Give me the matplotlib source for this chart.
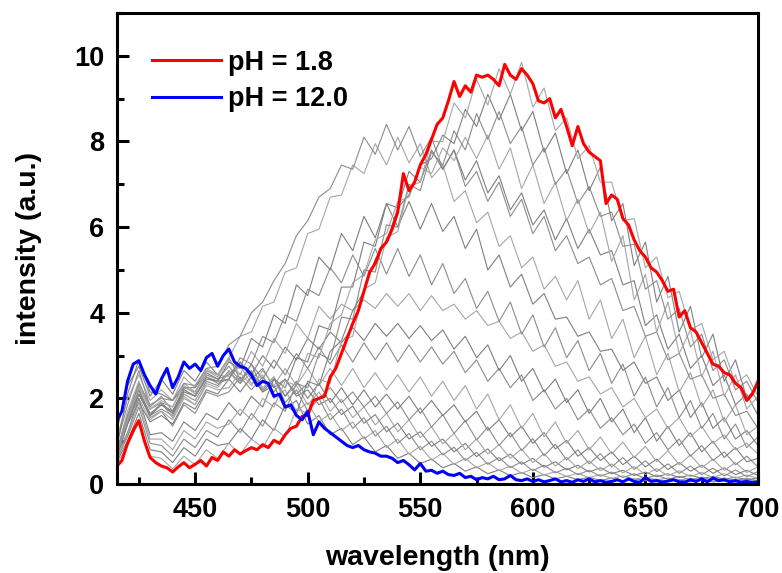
import numpy as np
import matplotlib
matplotlib.use("Agg")
import matplotlib.pyplot as plt
from matplotlib.ticker import MultipleLocator

plt.rcParams['font.family'] = ['Liberation Sans', 'DejaVu Sans']
plt.rcParams['font.weight'] = 'bold'

# wavelength grids (nm)
wl_fine = np.arange(415, 700.1, 2.5)   # red / blue spectra
wl = np.arange(415, 700.1, 5)          # intermediate spectra

# pH = 1.8
ph_low = [
    0.40, 0.55, 0.95, 1.25, 1.48, 1.00, 0.62, 0.50, 0.42, 0.38, 0.28, 0.40, 0.50, 0.38, 0.46, 0.55, 0.42, 0.62, 0.55, 0.75,
    0.65, 0.80, 0.70, 0.78, 0.85, 0.80, 0.92, 0.85, 1.02, 0.95, 1.15, 1.30, 1.35, 1.58, 1.60, 1.95, 2.00, 2.05, 2.50, 2.70,
    3.05, 3.40, 3.75, 4.05, 4.50, 4.95, 5.15, 5.50, 5.65, 5.95, 6.35, 7.25, 6.85, 7.05, 7.45, 7.70, 8.05, 8.40, 8.55, 8.95,
    9.40, 9.05, 9.30, 9.15, 9.55, 9.50, 9.55, 9.45, 9.30, 9.80, 9.55, 9.45, 9.70, 9.55, 9.35, 8.95, 8.90, 9.00, 8.55, 8.75,
    8.35, 7.90, 8.35, 7.95, 7.75, 7.65, 7.55, 6.55, 6.75, 6.65, 6.20, 6.05, 5.70, 5.45, 5.30, 5.05, 4.95, 4.75, 4.50, 4.55,
    3.90, 4.05, 3.65, 3.55, 3.30, 3.05, 2.80, 2.75, 2.60, 2.55, 2.35, 2.25, 1.95, 2.10, 2.40,
]

# pH = 12.0
ph_high = [
    1.45, 1.70, 2.40, 2.80, 2.88, 2.55, 2.30, 2.10, 2.45, 2.70, 2.25, 2.50, 2.85, 2.70, 2.80, 2.65, 2.95, 3.05, 2.75, 3.00,
    3.15, 2.85, 2.75, 2.70, 2.55, 2.30, 2.40, 2.35, 2.05, 2.10, 1.80, 1.85, 1.60, 1.50, 1.70, 1.15, 1.45, 1.30, 1.20, 1.10,
    1.00, 0.90, 0.85, 0.90, 0.80, 0.75, 0.72, 0.65, 0.65, 0.60, 0.50, 0.55, 0.45, 0.33, 0.48, 0.30, 0.32, 0.25, 0.30, 0.22,
    0.20, 0.25, 0.15, 0.18, 0.10, 0.15, 0.12, 0.18, 0.10, 0.12, 0.20, 0.10, 0.08, 0.12, 0.06, 0.10, 0.05, 0.08, 0.12, 0.05,
    0.08, 0.04, 0.10, 0.06, 0.12, 0.05, 0.08, 0.04, 0.06, 0.10, 0.05, 0.12, 0.06, 0.04, 0.15, 0.06, 0.08, 0.04, 0.07, 0.10,
    0.05, 0.04, 0.10, 0.06, 0.12, 0.05, 0.14, 0.08, 0.10, 0.05, 0.08, 0.04, 0.06, 0.03, 0.05,
]

# intermediate pH spectra (5 nm step, 415-700)
g1 = [1.20, 2.30, 2.75, 2.05, 2.45, 2.10, 2.65, 2.40, 2.85, 2.55,
      2.95, 2.45, 2.65, 2.15, 2.30, 1.75, 1.95, 1.40, 1.60, 1.15,
      1.30, 0.92, 1.10, 0.75, 0.90, 0.60, 0.72, 0.48, 0.58, 0.38,
      0.48, 0.30, 0.40, 0.24, 0.33, 0.19, 0.27, 0.15, 0.22, 0.12,
      0.18, 0.10, 0.16, 0.08, 0.14, 0.07, 0.12, 0.08, 0.11, 0.06,
      0.10, 0.05, 0.09, 0.05, 0.08, 0.05, 0.07, 0.05]
g2 = [1.00, 2.00, 2.55, 1.95, 2.20, 1.95, 2.50, 2.25, 2.70, 2.55,
      2.50, 2.75, 2.35, 2.55, 2.00, 2.20, 1.70, 1.90, 1.45, 1.65,
      1.25, 1.45, 1.05, 1.25, 0.85, 1.05, 0.70, 0.88, 0.56, 0.72,
      0.46, 0.60, 0.38, 0.50, 0.31, 0.42, 0.25, 0.35, 0.21, 0.29,
      0.18, 0.25, 0.15, 0.22, 0.13, 0.19, 0.11, 0.16, 0.10, 0.14,
      0.09, 0.13, 0.08, 0.12, 0.07, 0.11, 0.07, 0.09]
g3 = [0.90, 1.85, 2.65, 1.80, 2.05, 1.70, 2.25, 2.15, 2.55, 2.45,
      2.75, 2.40, 2.80, 2.20, 2.50, 1.90, 2.20, 1.70, 2.00, 1.50,
      1.75, 1.30, 1.55, 1.12, 1.35, 0.95, 1.18, 0.80, 1.00, 0.68,
      0.86, 0.55, 0.74, 0.46, 0.62, 0.38, 0.52, 0.31, 0.44, 0.26,
      0.37, 0.22, 0.32, 0.18, 0.28, 0.15, 0.24, 0.13, 0.21, 0.11,
      0.18, 0.10, 0.16, 0.09, 0.14, 0.08, 0.13, 0.07]
g4 = [0.80, 2.10, 2.90, 2.15, 2.10, 1.95, 2.25, 2.25, 2.60, 2.45,
      2.55, 2.85, 2.45, 2.70, 2.25, 2.45, 2.05, 2.20, 1.85, 2.00,
      1.62, 1.82, 1.42, 1.62, 1.22, 1.42, 1.05, 1.22, 0.88, 1.05,
      0.75, 0.95, 0.64, 0.82, 0.54, 0.70, 0.46, 0.60, 0.39, 0.52,
      0.33, 0.44, 0.28, 0.38, 0.24, 0.32, 0.20, 0.28, 0.17, 0.24,
      0.15, 0.21, 0.13, 0.18, 0.11, 0.16, 0.10, 0.14]
g5 = [0.70, 1.70, 2.40, 1.75, 1.90, 1.55, 2.05, 1.85, 2.35, 2.25,
      2.60, 2.35, 2.60, 2.25, 2.50, 2.05, 2.30, 1.85, 2.15, 1.70,
      1.98, 1.55, 1.80, 1.38, 1.65, 1.22, 1.50, 1.08, 1.34, 0.94,
      1.18, 0.80, 1.05, 0.70, 0.92, 0.60, 0.82, 0.50, 0.71, 0.42,
      0.62, 0.36, 0.54, 0.31, 0.47, 0.26, 0.41, 0.22, 0.36, 0.19,
      0.31, 0.17, 0.27, 0.15, 0.24, 0.14, 0.21, 0.13]
g6 = [0.60, 1.50, 2.20, 1.55, 1.70, 1.35, 1.85, 1.65, 2.15, 2.05,
      2.15, 2.50, 2.20, 2.50, 2.15, 2.45, 2.10, 2.35, 2.00, 2.25,
      1.90, 2.15, 1.80, 2.05, 1.65, 1.92, 1.50, 1.78, 1.33, 1.62,
      1.18, 1.48, 1.03, 1.33, 0.90, 1.20, 0.78, 1.06, 0.66, 0.93,
      0.56, 0.80, 0.47, 0.71, 0.40, 0.62, 0.34, 0.54, 0.29, 0.47,
      0.25, 0.42, 0.22, 0.37, 0.19, 0.33, 0.17, 0.29]
m5 = [0.60, 1.40, 1.90, 1.45, 1.60, 1.40, 1.90, 1.75, 2.20, 2.10,
      2.45, 2.15, 2.50, 2.15, 2.45, 2.05, 2.40, 2.00, 2.35, 1.90,
      2.25, 1.85, 2.20, 1.80, 2.10, 1.75, 2.05, 1.65, 1.95, 1.60,
      1.85, 1.45, 1.70, 1.25, 1.50, 1.10, 1.35, 0.95, 1.20, 0.82,
      1.02, 0.65, 0.85, 0.55, 0.75, 0.45, 0.65, 0.40, 0.58, 0.34,
      0.50, 0.30, 0.44, 0.25, 0.38, 0.22, 0.32, 0.20]
m4 = [0.60, 1.45, 2.00, 1.50, 1.70, 1.50, 2.00, 1.85, 2.30, 2.20,
      2.25, 2.60, 2.30, 2.65, 2.30, 2.70, 2.30, 2.70, 2.30, 2.70,
      2.30, 2.70, 2.25, 2.60, 2.20, 2.55, 2.15, 2.50, 2.05, 2.40,
      1.95, 2.30, 1.75, 2.10, 1.50, 1.85, 1.30, 1.65, 1.10, 1.45,
      0.95, 1.25, 0.80, 1.10, 0.70, 0.98, 0.62, 0.88, 0.52, 0.78,
      0.45, 0.68, 0.38, 0.58, 0.32, 0.50, 0.27, 0.40]
m3 = [0.65, 1.50, 2.10, 1.60, 1.75, 1.60, 2.10, 1.95, 2.40, 2.30,
      2.65, 2.35, 2.80, 2.45, 2.90, 2.55, 3.05, 2.70, 3.20, 2.80,
      3.25, 2.85, 3.30, 2.90, 3.30, 2.85, 3.25, 2.85, 3.20, 2.80,
      3.10, 2.60, 2.90, 2.40, 2.70, 2.25, 2.55, 1.95, 2.20, 1.75,
      2.00, 1.50, 1.75, 1.30, 1.55, 1.15, 1.40, 0.95, 1.20, 0.80,
      1.05, 0.65, 0.90, 0.55, 0.75, 0.45, 0.65, 0.40]
m2 = [0.70, 1.55, 2.20, 1.65, 1.85, 1.70, 2.20, 2.05, 2.50, 2.40,
      2.45, 2.85, 2.55, 3.00, 2.70, 3.20, 2.90, 3.40, 3.15, 3.55,
      3.30, 3.65, 3.35, 3.75, 3.45, 3.75, 3.40, 3.70, 3.35, 3.60,
      3.15, 3.45, 2.95, 3.25, 2.65, 3.00, 2.40, 2.70, 2.15, 2.45,
      1.90, 2.20, 1.65, 2.00, 1.45, 1.75, 1.20, 1.55, 1.00, 1.35,
      0.90, 1.20, 0.75, 1.00, 0.62, 0.85, 0.52, 0.60]
m1 = [0.75, 1.60, 2.30, 1.75, 1.90, 1.80, 2.30, 2.10, 2.65, 2.50,
      2.90, 2.55, 3.10, 2.75, 3.40, 3.05, 3.75, 3.40, 4.15, 3.85,
      4.20, 4.05, 4.30, 4.10, 4.45, 4.15, 4.45, 4.05, 4.40, 4.05,
      4.20, 3.85, 4.05, 3.70, 3.80, 3.40, 3.55, 3.10, 3.25, 2.75,
      2.85, 2.40, 2.50, 2.10, 2.25, 1.80, 2.00, 1.55, 1.75, 1.30,
      1.55, 1.10, 1.35, 0.95, 1.15, 0.80, 0.95, 0.70]
h4 = [0.60, 1.45, 2.10, 1.60, 1.90, 1.65, 2.20, 2.05, 2.50, 2.35,
      2.45, 2.95, 2.80, 3.45, 3.30, 3.95, 3.80, 4.55, 4.40, 5.05,
      4.70, 5.35, 4.85, 5.50, 4.90, 5.50, 4.85, 5.35, 4.65, 5.15,
      4.45, 4.80, 4.10, 4.50, 3.80, 4.25, 3.50, 3.95, 3.20, 3.65,
      2.95, 3.35, 2.65, 3.05, 2.35, 2.80, 2.05, 2.50, 1.80, 2.25,
      1.55, 1.95, 1.30, 1.65, 1.05, 1.40, 0.85, 1.10]
h3 = [0.60, 1.40, 2.10, 1.60, 1.85, 1.65, 2.15, 2.05, 2.45, 2.40,
      2.85, 2.70, 3.40, 3.20, 3.95, 3.75, 4.65, 4.40, 5.30, 5.00,
      5.85, 5.45, 6.25, 5.75, 6.55, 6.00, 6.60, 5.95, 6.55, 5.90,
      6.25, 5.50, 5.95, 5.00, 5.35, 4.60, 4.90, 4.20, 4.45, 3.85,
      3.90, 3.45, 3.55, 3.10, 3.15, 2.65, 2.85, 2.35, 2.50, 1.95,
      2.20, 1.55, 1.90, 1.30, 1.55, 1.05, 1.25, 0.90]
h2 = [0.65, 1.50, 2.25, 1.75, 1.95, 1.80, 2.35, 2.15, 2.65, 2.55,
      2.95, 3.45, 3.55, 4.15, 4.25, 4.95, 5.05, 5.85, 5.95, 6.70,
      6.75, 7.45, 7.25, 7.95, 7.45, 8.10, 7.50, 7.95, 7.15, 7.45,
      6.60, 6.85, 6.10, 6.35, 5.55, 5.80, 5.05, 5.30, 4.55, 4.85,
      4.30, 4.75, 3.85, 4.30, 3.40, 3.85, 2.95, 3.45, 2.55, 3.05,
      2.15, 2.60, 1.80, 2.20, 1.45, 1.85, 1.15, 1.35]
h1 = [0.70, 1.60, 2.35, 1.85, 2.00, 1.95, 2.35, 2.30, 2.70, 2.75,
      3.25, 3.45, 4.00, 4.25, 4.75, 5.15, 5.80, 6.15, 6.70, 6.90,
      7.45, 7.35, 8.10, 7.70, 8.40, 7.80, 8.35, 7.65, 8.10, 7.35,
      7.80, 6.95, 7.30, 6.60, 7.05, 6.25, 6.65, 5.85, 6.25, 5.45,
      5.80, 5.15, 5.30, 4.65, 4.80, 4.05, 4.15, 3.45, 3.55, 2.90,
      3.05, 2.45, 2.55, 2.00, 2.10, 1.60, 1.70, 1.30]
r5 = [0.65, 1.20, 2.00, 1.15, 1.20, 1.00, 1.45, 1.25, 1.65, 1.50,
      1.90, 1.60, 2.05, 1.80, 2.45, 2.25, 2.95, 2.85, 3.70, 3.60,
      4.60, 4.60, 5.65, 5.55, 6.55, 6.45, 7.30, 7.05, 7.80, 7.35,
      7.80, 7.10, 7.55, 6.80, 7.20, 6.40, 6.80, 6.05, 6.40, 5.70,
      6.20, 5.50, 5.95, 5.35, 5.45, 4.65, 4.75, 3.70, 3.95, 3.15,
      3.50, 2.70, 3.00, 2.30, 2.55, 1.85, 2.10, 1.60]
r4 = [0.60, 1.15, 1.90, 1.05, 1.05, 0.80, 1.25, 1.05, 1.45, 1.30,
      1.40, 1.75, 1.50, 2.00, 1.80, 2.40, 2.30, 3.05, 2.95, 3.75,
      3.95, 4.70, 4.90, 5.70, 5.85, 6.60, 6.70, 7.40, 7.25, 7.85,
      7.55, 8.10, 7.60, 8.15, 7.35, 7.85, 6.90, 7.45, 6.55, 7.05,
      6.15, 6.65, 5.85, 6.35, 5.20, 5.80, 4.30, 4.90, 3.55, 4.25,
      3.05, 3.60, 2.50, 3.10, 2.05, 2.55, 1.75, 2.05]
r3 = [0.55, 1.10, 1.80, 0.95, 0.90, 0.65, 1.05, 0.85, 1.25, 1.10,
      1.50, 1.20, 1.65, 1.35, 1.90, 1.70, 2.35, 2.25, 3.05, 2.90,
      3.90, 3.85, 5.00, 4.95, 6.05, 6.00, 7.00, 6.85, 7.75, 7.45,
      8.25, 7.80, 8.65, 8.05, 8.70, 7.95, 8.35, 7.45, 7.85, 7.00,
      7.35, 6.55, 6.95, 6.25, 6.35, 5.55, 5.60, 4.55, 4.75, 3.85,
      4.10, 3.20, 3.50, 2.65, 2.90, 2.20, 2.40, 1.90]
r2 = [0.50, 1.00, 1.65, 0.80, 0.75, 0.50, 0.85, 0.65, 1.05, 0.90,
      0.95, 1.30, 1.05, 1.50, 1.25, 1.85, 1.65, 2.40, 2.30, 3.10,
      3.35, 4.05, 4.50, 5.25, 5.65, 6.45, 6.75, 7.45, 7.60, 8.15,
      7.95, 8.75, 8.35, 9.10, 8.50, 9.10, 8.25, 8.70, 7.75, 8.20,
      7.25, 7.80, 6.85, 7.40, 6.15, 6.55, 5.10, 5.65, 4.25, 4.85,
      3.55, 4.15, 2.95, 3.50, 2.40, 2.90, 2.00, 2.30]
r1 = [0.45, 0.90, 1.45, 0.65, 0.60, 0.35, 0.65, 0.45, 0.80, 0.60,
      0.95, 0.70, 1.05, 0.85, 1.30, 1.10, 1.75, 1.65, 2.45, 2.35,
      3.35, 3.45, 4.55, 4.70, 5.75, 5.90, 6.95, 7.05, 8.00, 8.00,
      8.90, 8.55, 9.45, 8.85, 9.70, 9.10, 9.85, 8.80, 9.25, 8.25,
      8.55, 7.60, 7.90, 7.05, 7.05, 6.15, 6.20, 5.05, 5.30, 4.35,
      4.50, 3.60, 3.75, 2.90, 3.10, 2.35, 2.55, 2.05]

intermediate = [g1, g2, g3, g4, g5, g6, m5, m4, m3, m2, m1,
                h4, h3, h2, h1, r5, r4, r3, r2, r1]
gray_shades = ['#7f7f7f', '#a6a6a6', '#8c8c8c']

fig = plt.figure(figsize=(7.82, 5.73), dpi=100)
ax = fig.add_axes([0.1496, 0.1553, 0.8197, 0.8220])

for i, spec in enumerate(intermediate):
    ax.plot(wl, spec, color=gray_shades[i % 3], lw=0.8)

ax.plot(wl_fine, ph_low, color='#ff0000', lw=2.2, label='pH = 1.8')
ax.plot(wl_fine, ph_high, color='#0000ff', lw=2.2, label='pH = 12.0')

ax.set_xlim(415.3, 700)
ax.set_ylim(0, 11)
ax.xaxis.set_major_locator(MultipleLocator(50))
ax.xaxis.set_minor_locator(MultipleLocator(25))
ax.yaxis.set_major_locator(MultipleLocator(2))
ax.yaxis.set_minor_locator(MultipleLocator(1))

ax.tick_params(which='both', direction='in', width=2.2, labelsize=19.5,
               top=False, right=False)
ax.tick_params(which='major', length=8.5)
ax.tick_params(which='minor', length=5)
ax.tick_params(axis='y', pad=9)
ax.tick_params(axis='x', pad=9)
for s in ax.spines.values():
    s.set_linewidth(2.2)

ax.set_xlabel('wavelength (nm)', fontsize=20.5, fontweight='bold', labelpad=16)
ax.set_ylabel('intensity (a.u.)', fontsize=20.5, fontweight='bold', labelpad=23)

ax.legend(loc='upper left', bbox_to_anchor=(0.0546, 0.922), frameon=False,
          fontsize=19.5, handlelength=2.55, handletextpad=0.26,
          labelspacing=0.38, borderaxespad=0, borderpad=0)

fig.savefig('out.png', dpi=100)
